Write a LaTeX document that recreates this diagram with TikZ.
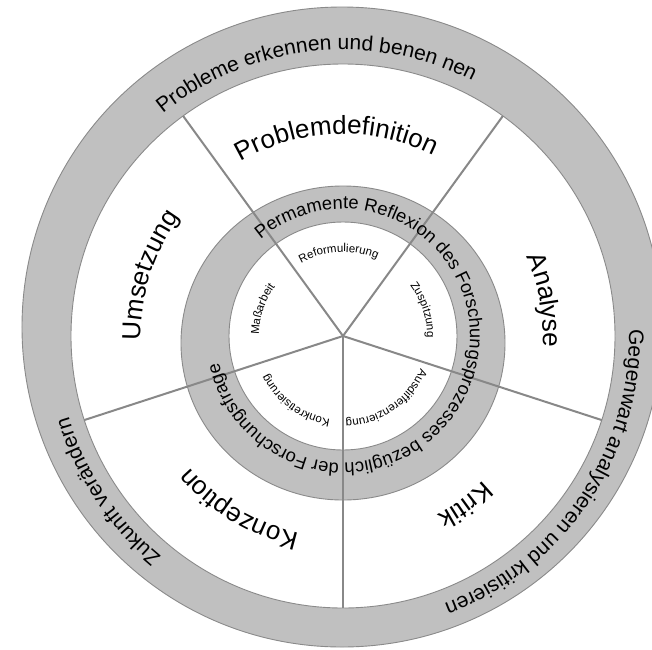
\documentclass[tikz,border=0pt]{standalone}
\usepackage{fontspec}
\setmainfont{Liberation Sans}
\usetikzlibrary{decorations.text}
\definecolor{ringfill}{HTML}{C0C0C0}
\definecolor{ringedge}{HTML}{8A8A8A}
\definecolor{spokecol}{HTML}{888888}
\tikzset{
  ring/.style={fill=ringfill, draw=ringedge, line width=0.9pt},
  hole/.style={fill=white, draw=ringedge, line width=0.9pt},
  spoke/.style={draw=spokecol, line width=2pt},
}
% clockwise text on an arc: centre angle, half span, radius, font size, text
\newcommand{\cwtext}[5]{%
  \path[decorate, decoration={text along path, text align=center,
     text={|\fontsize{#4}{#4}\selectfont|#5}}]
     ({#1+#2}:#3) arc[start angle={#1+#2}, end angle={#1-#2}, radius=#3];}
\begin{document}
\begin{tikzpicture}[x=1pt,y=1pt]
\useasboundingbox (-343,-313) rectangle (309,336);
\clip (-343,-313) rectangle (309,336);
\fill[white] (-343,-313) rectangle (309,336);
\coordinate (c) at (0,0);
% outer ring
\path[ring] (-1,9) circle[radius=320];
\path[hole] (c) circle[radius=272];
% middle ring
\path[ring] (0,-7) ellipse[x radius=162, y radius=157];
\path[hole] (c) circle[radius=114];
% spokes between the five phases
\foreach \a in {54,126,198,270,342}{
  \coordinate (s\a) at (\a:272);
  \draw[spoke] (c) -- (s\a);
}
% outer ring texts
\cwtext{96}{60}{286}{21}{Probleme erkennen und benen nen}
\cwtext{-34}{60}{286}{21}{Gegenwart analysieren und kritisieren}
\cwtext{-146.5}{40}{286}{21}{Zukunft verändern}
% middle ring text
\cwtext{-18.75}{165}{127}{18.3}{Permamente Reflexion des Forschungsprozesses bezüglich der Forschungsfrage}
% phases
\cwtext{92}{50}{202}{26}{Problemdefinition}
\cwtext{10}{30}{200}{26}{Analyse}
\cwtext{-54}{30}{202}{26}{Kritik}
\cwtext{-121}{40}{202}{26}{Konzeption}
\cwtext{162.5}{40}{202}{26}{Umsetzung}
% inner steps
\cwtext{93}{45}{84}{11.5}{Reformulierung}
\cwtext{18}{45}{84}{11.5}{Zuspitzung}
\cwtext{-55.5}{45}{84}{11.5}{Ausdifferenzierung}
\cwtext{-126}{45}{84}{11.5}{Konkretisierung}
\cwtext{161.5}{45}{84}{11.5}{Maßarbeit}
\end{tikzpicture}
\end{document}
